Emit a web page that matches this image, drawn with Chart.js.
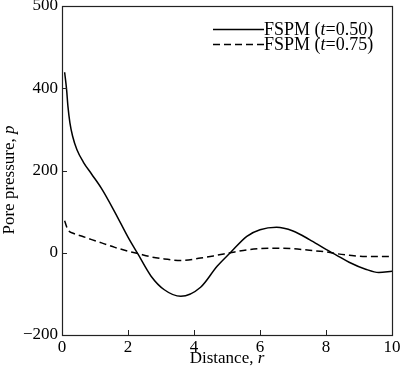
<!DOCTYPE html>
<html><head><meta charset="utf-8">
<script src="https://cdn.jsdelivr.net/npm/chart.js@4"></script>
<style>html,body{margin:0;padding:0;background:#fff}#wrap{width:400px;height:377px}</style>
</head><body><div id="wrap"><canvas id="c" width="400" height="377"></canvas></div>
<script>
// ---- data ----
const distance = [0.08, 0.14, 0.18, 0.24, 0.32, 0.45, 0.65, 0.9, 1.2, 1.6, 2.0, 2.3, 2.7, 3.1, 3.6, 4.2, 4.7, 5.1, 5.6, 6.0, 6.5, 7.0, 7.5, 8.0, 8.3, 8.7, 9.2, 9.6, 10];
const pT050 = [439, 396, 356, 316, 284, 251, 220, 191, 156, 99, 38, -3, -57, -90, -106, -84, -33, 0, 40, 56, 62, 53, 32, 8, -5, -23, -40, -48, -45];
const pT075 = [78, 63, 56, 51, 48, 44, 39, 32, 24, 13, 4, -2, -10, -15, -19, -13, -6, 0, 7, 10, 11, 10, 6, 2, -2, -6, -9, -9, -9];
const seriesNames = [['FSPM (', 't', '=0.50)'], ['FSPM (', 't', '=0.75)']];
const xTickValues = [0, 2, 4, 6, 8, 10];
const yTickValues = [-200, 0, 200, 400, 600];
const yTickLabels = ['\u2212200', '0', '200', '400', '500'];
const xTitle = ['Distance, ', 'r'];
const yTitle = ['Pore pressure, ', 'p'];

const FONT = '"Liberation Serif", "Times New Roman", serif';
const pts = (ys) => distance.map((r, i) => ({ x: r, y: ys[i] }));

function drawMixed(ctx, parts, cx, cy, size) {
  const fonts = parts.map((_, i) => (i % 2 === 1 ? 'italic ' : '') + size + 'px ' + FONT);
  let total = 0;
  const widths = parts.map((t, i) => { ctx.font = fonts[i]; const w = ctx.measureText(t).width; total += w; return w; });
  let x = cx - total / 2;
  ctx.textBaseline = 'middle';
  ctx.textAlign = 'left';
  parts.forEach((t, i) => { ctx.font = fonts[i]; ctx.fillText(t, x, cy); x += widths[i]; });
}

const decor = {
  id: 'decor',
  afterDraw(chart) {
    const ctx = chart.ctx;
    const a = chart.chartArea;
    const xs = chart.scales.x, ys = chart.scales.y;
    ctx.save();
    ctx.strokeStyle = '#222';
    ctx.lineWidth = 1.2;
    ctx.setLineDash([]);
    ctx.strokeRect(Math.round(a.left) + 0.5, Math.round(a.top) + 0.5, Math.round(a.right - a.left), Math.round(a.bottom - a.top));
    ctx.lineWidth = 1;
    ctx.beginPath();
    xTickValues.slice(1, -1).forEach(v => {
      const px = Math.round(xs.getPixelForValue(v)) + 0.5;
      ctx.moveTo(px, a.bottom); ctx.lineTo(px, a.bottom - 5);
    });
    yTickValues.slice(1, -1).forEach(v => {
      const py = Math.round(ys.getPixelForValue(v)) + 0.5;
      ctx.moveTo(a.left, py); ctx.lineTo(a.left + 5, py);
    });
    ctx.stroke();
    // legend
    ctx.fillStyle = '#000';
    chart.data.datasets.forEach((ds, i) => {
      const y = 29.5 + i * 15;
      ctx.strokeStyle = '#000';
      ctx.lineWidth = ds.borderWidth;
      ctx.setLineDash(ds.borderDash || []);
      ctx.beginPath(); ctx.moveTo(213, y); ctx.lineTo(264, y); ctx.stroke();
      ctx.setLineDash([]);
      const parts = seriesNames[i];
      let x = 264;
      ctx.textBaseline = 'middle'; ctx.textAlign = 'left';
      parts.forEach((t, k) => {
        ctx.font = (k === 1 ? 'italic ' : '') + '18px ' + FONT;
        ctx.fillText(t, x, y + 1);
        x += ctx.measureText(t).width;
      });
    });
    // axis titles
    drawMixed(ctx, xTitle, (a.left + a.right) / 2, 359, 17);
    ctx.translate(10, 180);
    ctx.rotate(-Math.PI / 2);
    drawMixed(ctx, yTitle, 0, 0, 17);
    ctx.restore();
  }
};

new Chart(document.getElementById('c'), {
  type: 'line',
  data: {
    datasets: [
      { label: 'FSPM (t=0.50)', data: pts(pT050), borderColor: '#000', borderWidth: 1.5, pointRadius: 0, fill: false, cubicInterpolationMode: 'monotone' },
      { label: 'FSPM (t=0.75)', data: pts(pT075), borderColor: '#000', borderWidth: 1.5, borderDash: [7, 4], pointRadius: 0, fill: false, cubicInterpolationMode: 'monotone' }
    ]
  },
  options: {
    responsive: false,
    animation: false,
    devicePixelRatio: 1,
    layout: { padding: { top: 6, right: 8, bottom: 0, left: 0 } },
    plugins: { legend: { display: false }, tooltip: { enabled: false } },
    scales: {
      x: {
        type: 'linear', min: 0, max: 10,
        afterBuildTicks: s => { s.ticks = xTickValues.map(v => ({ value: v })); },
        afterFit: s => { s.height = 42; s.paddingLeft = 0; s.paddingRight = 0; },
        grid: { display: false, drawTicks: false },
        border: { display: false },
        ticks: { color: '#000', font: { family: FONT, size: 17 }, padding: 2, maxRotation: 0, autoSkip: false }
      },
      y: {
        type: 'linear', min: -200, max: 600,
        afterBuildTicks: s => { s.ticks = yTickValues.map(v => ({ value: v })); },
        afterFit: s => { s.width = 62; s.paddingTop = 0; s.paddingBottom = 0; },
        grid: { display: false, drawTicks: false },
        border: { display: false },
        ticks: { color: '#000', font: { family: FONT, size: 17 }, padding: 4, autoSkip: false,
          callback: (v) => { const i = yTickValues.indexOf(v); return i >= 0 ? yTickLabels[i] : ''; } }
      }
    }
  },
  plugins: [decor]
});
</script></body></html>
